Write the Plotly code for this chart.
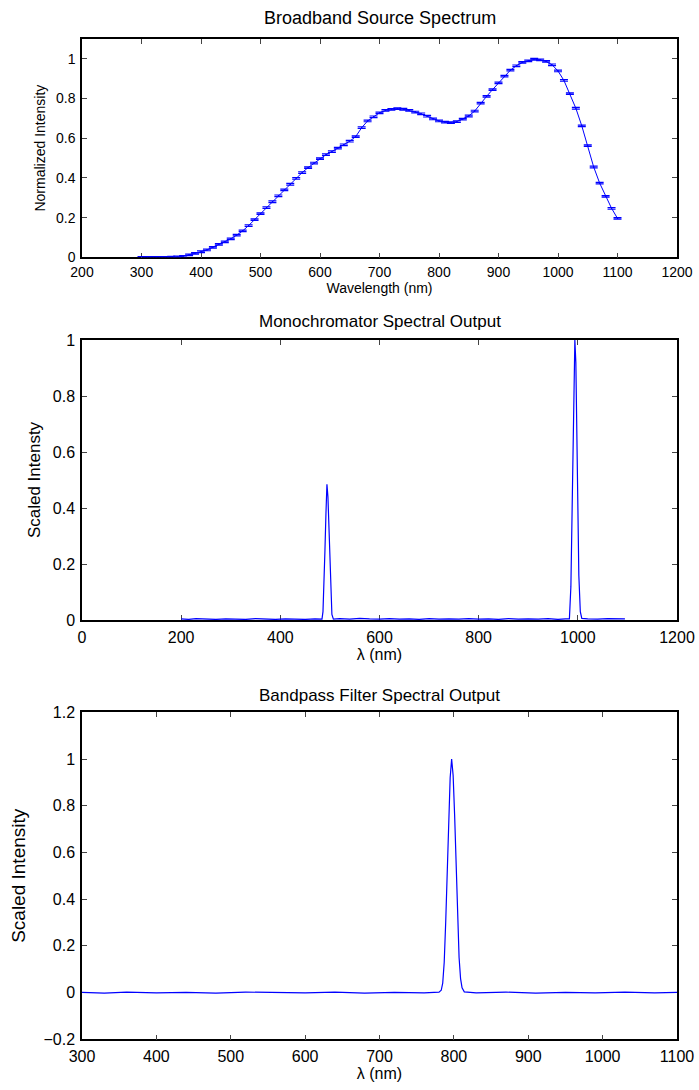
import plotly.graph_objects as go

# ---------------- data ----------------
# Top: broadband source spectrum (every 10 nm)
src_wl = list(range(300, 1101, 10))
src_int = [0.0, 0.0, 0.0, 0.0, 0.0, 0.001, 0.002, 0.005, 0.012, 0.02,
           0.028, 0.037, 0.05, 0.065, 0.078, 0.093, 0.112, 0.133, 0.16, 0.19,
           0.22, 0.25, 0.28, 0.31, 0.34, 0.368, 0.398, 0.427, 0.452, 0.475,
           0.497, 0.517, 0.533, 0.55, 0.567, 0.585, 0.608, 0.653, 0.687, 0.708,
           0.728, 0.74, 0.745, 0.749, 0.746, 0.74, 0.732, 0.723, 0.711, 0.697,
           0.687, 0.681, 0.679, 0.684, 0.696, 0.712, 0.737, 0.777, 0.811, 0.845,
           0.879, 0.913, 0.943, 0.965, 0.982, 0.99, 0.998, 0.995, 0.987, 0.97,
           0.939, 0.891, 0.825, 0.751, 0.662, 0.563, 0.455, 0.374, 0.307, 0.247,
           0.196]
src_err = 0.004

# Middle: monochromator spectral output
mono_wl = [200, 215, 230, 250, 270, 290, 310, 330, 350, 370, 390, 410, 430, 450, 470,
           484, 486, 488, 490, 492, 494, 496, 498, 500, 502, 504, 507,
           520, 540, 560, 580, 600, 620, 640, 660, 680, 700, 720, 740, 760, 780,
           800, 820, 840, 860, 880, 900, 920, 940, 960, 975,
           983, 986, 989, 992, 994, 996, 999, 1002, 1005, 1008,
           1020, 1040, 1060, 1080, 1095]
mono_int = [0.004, 0.002, 0.005, 0.003, 0.002, 0.004, 0.003, 0.002, 0.005, 0.003, 0.002, 0.004, 0.003, 0.002, 0.004,
            0.003, 0.03, 0.12, 0.25, 0.38, 0.485, 0.44, 0.32, 0.19, 0.08, 0.02, 0.003,
            0.005, 0.003, 0.006, 0.004, 0.003, 0.005, 0.003, 0.004, 0.002, 0.005, 0.003, 0.004, 0.003, 0.005,
            0.003, 0.004, 0.002, 0.005, 0.003, 0.004, 0.003, 0.005, 0.002, 0.004,
            0.004, 0.12, 0.45, 0.88, 1.0, 0.92, 0.52, 0.16, 0.03, 0.006,
            0.004, 0.003, 0.005, 0.003, 0.004]

# Bottom: bandpass filter spectral output
bp_wl = [300, 330, 360, 400, 440, 480, 520, 560, 600, 640, 680, 720, 760, 780,
         783, 785, 787, 789, 791, 793, 795, 797, 799, 801, 803, 805, 807, 809, 811, 814,
         830, 870, 910, 950, 990, 1030, 1070, 1100]
bp_int = [0.001, -0.002, 0.002, -0.001, 0.001, -0.002, 0.002, 0.0, -0.001, 0.002, -0.002, 0.001, -0.001, 0.002,
          0.01, 0.04, 0.13, 0.3, 0.5, 0.73, 0.92, 1.0, 0.93, 0.76, 0.53, 0.32, 0.15, 0.06, 0.02, 0.003,
          -0.001, 0.002, -0.002, 0.001, -0.001, 0.002, -0.001, 0.001]

# ---------------- figure ----------------
BLUE = "#0000ff"
FONT = "Liberation Sans, Arial, Helvetica, sans-serif"
W, H = 699, 1090

fig = go.Figure()
fig.add_trace(go.Scatter(x=src_wl, y=src_int, mode="lines",
                         line=dict(color=BLUE, width=1),
                         error_y=dict(type="constant", value=src_err, color=BLUE,
                                      thickness=1.2, width=4),
                         xaxis="x", yaxis="y", showlegend=False))
fig.add_trace(go.Scatter(x=mono_wl, y=mono_int, mode="lines",
                         line=dict(color=BLUE, width=1.2),
                         xaxis="x2", yaxis="y2", showlegend=False))
fig.add_trace(go.Scatter(x=bp_wl, y=bp_int, mode="lines",
                         line=dict(color=BLUE, width=1.2),
                         xaxis="x3", yaxis="y3", showlegend=False))

x0, x1 = 82 / W, 677 / W
def ydom(top, bot):
    return [1 - bot / H, 1 - top / H]

common = dict(showgrid=False, zeroline=False, showline=True, linecolor="black",
              linewidth=1.5, mirror="allticks", ticks="inside", ticklen=5,
              tickwidth=1, tickcolor="#444", color="black", layer="below traces",
              automargin=False)

def f(sz):
    return dict(family=FONT, size=sz, color="black")

fig.update_layout(
    width=W, height=H, margin=dict(l=0, r=0, t=0, b=0),
    paper_bgcolor="white", plot_bgcolor="white",
    font=dict(family=FONT, color="black"),
    xaxis=dict(domain=[x0, x1], anchor="y", range=[200, 1200], tick0=200, dtick=100,
               ticklabelstandoff=1,
               tickfont=f(14), title=dict(text="Wavelength (nm)", font=f(14), standoff=0), **common),
    yaxis=dict(domain=ydom(39, 257.3), anchor="x", range=[0, 1.1], tick0=0, dtick=0.2,
               ticklabelstandoff=2,
               tickfont=f(14), title=dict(text="Normalized Intensity", font=f(14), standoff=7), **common),
    xaxis2=dict(domain=[x0, x1], anchor="y2", range=[0, 1200], tick0=0, dtick=200,
                ticklabelstandoff=2,
                tickfont=f(16), title=dict(text="λ (nm)", font=f(16), standoff=1), **common),
    yaxis2=dict(domain=ydom(340, 620), anchor="x2", range=[0, 1], tick0=0, dtick=0.2,
                ticklabelstandoff=2,
                tickfont=f(16), title=dict(text="Scaled Intensty", font=f(17), standoff=8), **common),
    xaxis3=dict(domain=[x0, x1], anchor="y3", range=[300, 1100], tick0=300, dtick=100,
                ticklabelstandoff=2,
                tickfont=f(16), title=dict(text="λ (nm)", font=f(16), standoff=2), **common),
    yaxis3=dict(domain=ydom(712.3, 1039.3), anchor="x3", range=[-0.2, 1.2], tick0=-0.2, dtick=0.2,
                ticklabelstandoff=2,
                tickfont=f(16), title=dict(text="Scaled Intensity", font=f(19), standoff=13), **common),
)

titles = [("Broadband Source Spectrum", 18, 18),
          ("Monochromator Spectral Output", 321, 17),
          ("Bandpass Filter Spectral Output", 695, 17)]
for txt, ypx, sz in titles:
    fig.add_annotation(text=txt, x=(x0 + x1) / 2, y=1 - ypx / H, xref="paper", yref="paper",
                       showarrow=False, xanchor="center", yanchor="middle",
                       font=f(sz))

fig.write_html("out.html")
